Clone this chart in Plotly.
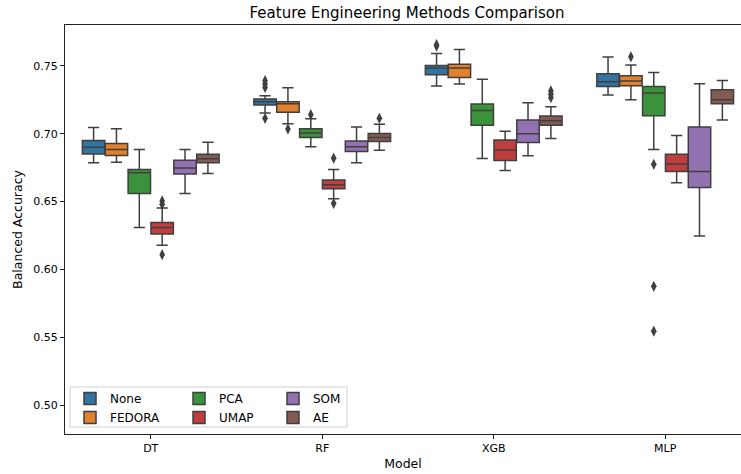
import plotly.graph_objects as go

models = ["DT", "RF", "XGB", "MLP"]
methods = ["None", "FEDORA", "PCA", "UMAP", "SOM", "AE"]
colors = {
    "None": "#3274a1", "FEDORA": "#e1812c", "PCA": "#3a923a",
    "UMAP": "#c03d3e", "SOM": "#9372b2", "AE": "#845b53",
}

# box statistics, one value per model (DT, RF, XGB, MLP)
upper = {
    "None": [0.7045, 0.7280, 0.7590, 0.7564],
    "FEDORA": [0.7036, 0.7339, 0.7620, 0.7505],
    "PCA": [0.6884, 0.7110, 0.7400, 0.7451],
    "UMAP": [0.6453, 0.6737, 0.7018, 0.6986],
    "SOM": [0.6884, 0.7050, 0.7228, 0.7368],
    "AE": [0.6937, 0.7070, 0.7199, 0.7392],
}
q3 = {
    "None": [0.6950, 0.7256, 0.7502, 0.7441],
    "FEDORA": [0.6928, 0.7236, 0.7512, 0.7427],
    "PCA": [0.6737, 0.7036, 0.7219, 0.7348],
    "UMAP": [0.6346, 0.6659, 0.6954, 0.6849],
    "SOM": [0.6805, 0.6947, 0.7101, 0.7050],
    "AE": [0.6849, 0.7001, 0.7131, 0.7324],
}
median = {
    "None": [0.6900, 0.7236, 0.7483, 0.7383],
    "FEDORA": [0.6884, 0.7221, 0.7483, 0.7388],
    "PCA": [0.6713, 0.7006, 0.7170, 0.7299],
    "UMAP": [0.6310, 0.6625, 0.6880, 0.6777],
    "SOM": [0.6747, 0.6904, 0.6999, 0.6722],
    "AE": [0.6815, 0.6972, 0.7096, 0.7250],
}
q1 = {
    "None": [0.6850, 0.7212, 0.7434, 0.7348],
    "FEDORA": [0.6840, 0.7157, 0.7414, 0.7353],
    "PCA": [0.6560, 0.6972, 0.7062, 0.7133],
    "UMAP": [0.6262, 0.6595, 0.6802, 0.6722],
    "SOM": [0.6703, 0.6869, 0.6935, 0.6605],
    "AE": [0.6786, 0.6942, 0.7062, 0.7221],
}
lower = {
    "None": [0.6786, 0.7153, 0.7351, 0.7285],
    "FEDORA": [0.6790, 0.7074, 0.7366, 0.7250],
    "PCA": [0.6310, 0.6904, 0.6818, 0.6884],
    "UMAP": [0.6180, 0.6522, 0.6730, 0.6639],
    "SOM": [0.6560, 0.6786, 0.6837, 0.6248],
    "AE": [0.6708, 0.6879, 0.6964, 0.7100],
}

# outliers: model index and value
outlier_model = {
    "None": [1, 1, 1, 1, 2, 2],
    "FEDORA": [1, 3],
    "PCA": [1, 3, 3, 3],
    "UMAP": [0, 0, 0, 1, 1],
    "SOM": [],
    "AE": [1, 2, 2, 2],
}
outlier_value = {
    "None": [0.7390, 0.7365, 0.7340, 0.7113, 0.7655, 0.7645],
    "FEDORA": [0.7035, 0.7566],
    "PCA": [0.7140, 0.6775, 0.5877, 0.5547],
    "UMAP": [0.6505, 0.6480, 0.6110, 0.6820, 0.6487],
    "SOM": [],
    "AE": [0.7113, 0.7315, 0.7290, 0.7265],
}

legend_of = {"None": "legend", "FEDORA": "legend", "PCA": "legend2",
             "UMAP": "legend2", "SOM": "legend3", "AE": "legend3"}

group_width = 0.8
n = len(methods)
box_w = group_width / n

fig = go.Figure()

for k, m in enumerate(methods):
    off = -group_width / 2 + (k + 0.5) * box_w
    xs = [i + off for i in range(len(models))]
    fig.add_trace(go.Box(
        x=xs,
        q1=q1[m], median=median[m], q3=q3[m],
        lowerfence=lower[m], upperfence=upper[m],
        width=box_w * 0.98,
        whiskerwidth=0.5,
        fillcolor=colors[m],
        line=dict(color="#3f3f3f", width=1.5),
        name=m,
        legend=legend_of[m],
        boxpoints=False,
    ))
    if outlier_value[m]:
        fig.add_trace(go.Scatter(
            x=[i + off for i in outlier_model[m]],
            y=outlier_value[m],
            mode="markers",
            marker=dict(symbol="diamond-tall", size=8, color="#3f3f3f"),
            showlegend=False,
            hoverinfo="y",
        ))

W, H = 741, 474
ml, mt, mb = 65, 25, 40
pw, ph = W - ml, H - mt - mb


def px(x):
    return (x - ml) / pw


def py(y):
    return (H - mb - y) / ph


font = dict(family="DejaVu Sans", size=11, color="#000000")
label_font = dict(family="DejaVu Sans", size=12.5, color="#000000")
leg_common = dict(font=dict(family="DejaVu Sans", size=12, color="#000000"),
                  bgcolor="rgba(0,0,0,0)", borderwidth=0,
                  orientation="v", xanchor="left", yanchor="top",
                  y=py(384), tracegroupgap=0)

fig.update_layout(
    width=W, height=H,
    margin=dict(l=ml, r=0, t=mt, b=mb),
    paper_bgcolor="white", plot_bgcolor="white",
    font=font,
    boxmode="overlay",
    title=dict(text="Feature Engineering Methods Comparison",
               x=407 / W, xref="container", xanchor="center",
               y=1 - 13 / H, yref="container", yanchor="middle",
               font=dict(family="DejaVu Sans", size=15, color="#000000")),
    xaxis=dict(range=[-0.5, 3.442], tickvals=list(range(len(models))),
               ticktext=models, showgrid=False, zeroline=False,
               showline=True, linecolor="#222222", linewidth=1, mirror=True,
               ticks="outside", ticklen=4, tickcolor="#222222",
               title=dict(text="Model", standoff=5, font=label_font)),
    yaxis=dict(range=[0.479, 0.780], tickvals=[0.50, 0.55, 0.60, 0.65, 0.70, 0.75],
               tickformat=".2f", showgrid=False, zeroline=False,
               showline=True, linecolor="#222222", linewidth=1, mirror=True,
               ticks="outside", ticklen=4, tickcolor="#222222",
               title=dict(text="Balanced Accuracy", standoff=7, font=label_font)),
    legend=dict(x=px(70), **leg_common),
    legend2=dict(x=px(179), **leg_common),
    legend3=dict(x=px(273), **leg_common),
    shapes=[dict(type="rect", xref="paper", yref="paper",
                 x0=px(70), x1=px(347), y0=py(427), y1=py(387),
                 line=dict(color="#d0d0d0", width=1),
                 fillcolor="rgba(255,255,255,0.8)", layer="above")],
)

fig.write_html("out.html", config={"displayModeBar": False},
               post_script="document.body.style.margin='0px';")
